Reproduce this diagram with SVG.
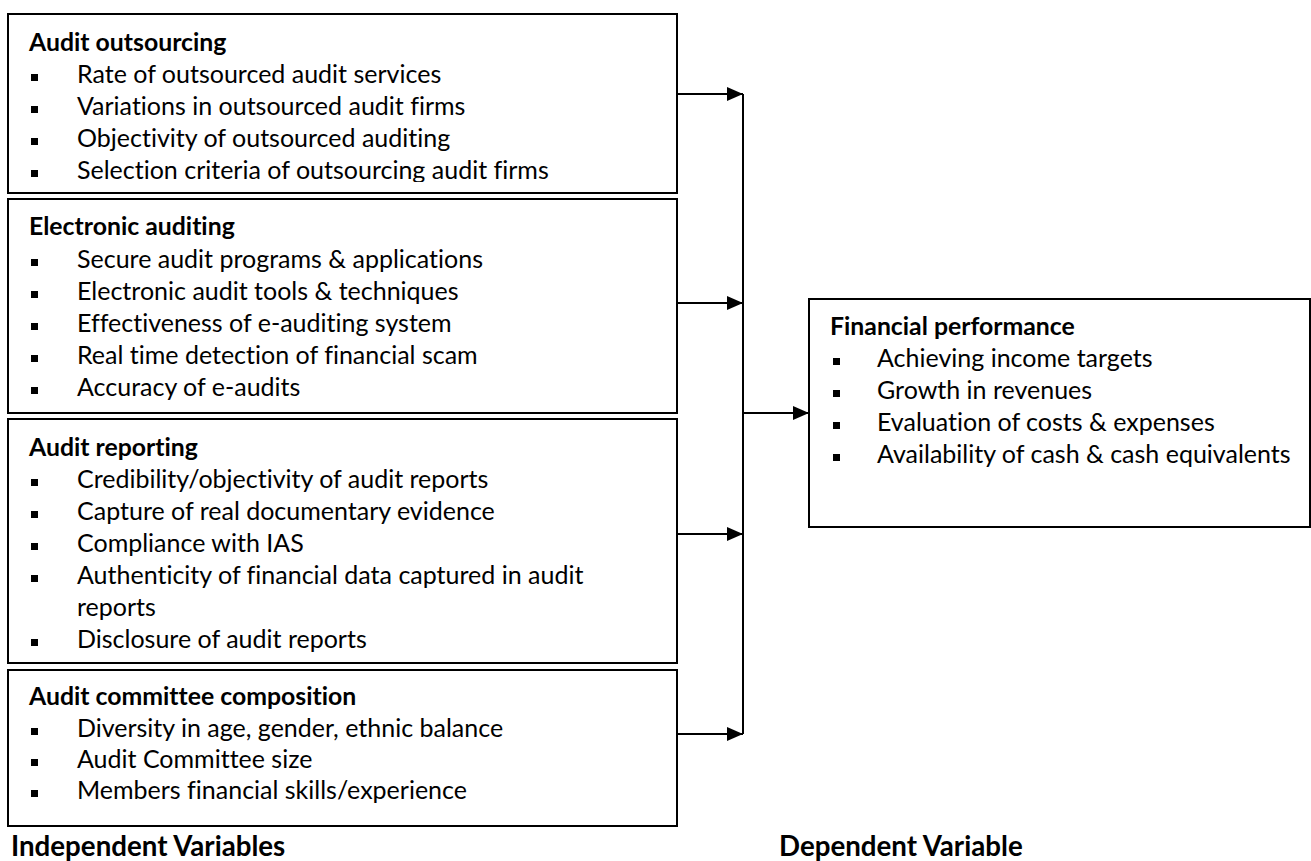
<svg xmlns="http://www.w3.org/2000/svg" width="1311" height="861" viewBox="0 0 1311 861">
<style>
text{font-variant-ligatures:none}
.box{fill:#fff;stroke:#000;stroke-width:2}
.t{font-family:Lato,"Liberation Sans",sans-serif;font-size:25px;fill:#000}
.h{font-family:Lato,"Liberation Sans",sans-serif;font-size:24.8px;font-weight:bold;fill:#000}
.lbl{font-family:Lato,"Liberation Sans",sans-serif;font-size:27.7px;font-weight:bold;fill:#000}
.b{fill:#000}
.conn{stroke:#000;stroke-width:2;fill:none}
</style>
<defs>
<marker id="arr" viewBox="0 0 16 14" refX="16" refY="7" markerWidth="16" markerHeight="14" markerUnits="userSpaceOnUse" orient="auto">
<path d="M0,0 L16,7 L0,14 Z" fill="#000"/>
</marker>
<clipPath id="c1"><rect x="0" y="0" width="700" height="182"/></clipPath>
<clipPath id="c3"><rect x="0" y="400" width="700" height="252"/></clipPath>
</defs>

<g id="n1">
<rect class="box" x="8" y="14" width="669" height="179"/>
<g clip-path="url(#c1)">
<text class="h" x="29" y="51">Audit outsourcing</text>
<rect class="b" x="31" y="74" width="7" height="7"/><text class="t" x="77" y="83">Rate of outsourced audit services</text>
<rect class="b" x="31" y="106" width="7" height="7"/><text class="t" x="77" y="115">Variations in outsourced audit firms</text>
<rect class="b" x="31" y="138" width="7" height="7"/><text class="t" x="77" y="147">Objectivity of outsourced auditing</text>
<rect class="b" x="31" y="170" width="7" height="7"/><text class="t" x="77" y="179">Selection criteria of outsourcing audit firms</text>
</g>
</g>

<g id="n2">
<rect class="box" x="8" y="199" width="669" height="214"/>
<text class="h" x="29" y="235">Electronic auditing</text>
<rect class="b" x="31" y="259" width="7" height="7"/><text class="t" x="77" y="268">Secure audit programs &amp; applications</text>
<rect class="b" x="31" y="291" width="7" height="7"/><text class="t" x="77" y="300">Electronic audit tools &amp; techniques</text>
<rect class="b" x="31" y="323" width="7" height="7"/><text class="t" x="77" y="332">Effectiveness of e-auditing system</text>
<rect class="b" x="31" y="355" width="7" height="7"/><text class="t" x="77" y="364">Real time detection of financial scam</text>
<rect class="b" x="31" y="387" width="7" height="7"/><text class="t" x="77" y="396">Accuracy of e-audits</text>
</g>

<g id="n3">
<rect class="box" x="8" y="419" width="669" height="244"/>
<g clip-path="url(#c3)">
<text class="h" x="29" y="456">Audit reporting</text>
<rect class="b" x="31" y="479" width="7" height="7"/><text class="t" x="77" y="488">Credibility/objectivity of audit reports</text>
<rect class="b" x="31" y="511" width="7" height="7"/><text class="t" x="77" y="520">Capture of real documentary evidence</text>
<rect class="b" x="31" y="543" width="7" height="7"/><text class="t" x="77" y="552">Compliance with IAS</text>
<rect class="b" x="31" y="575" width="7" height="7"/><text class="t" x="77" y="584">Authenticity of financial data captured in audit</text>
<text class="t" x="77" y="616">reports</text>
<rect class="b" x="31" y="639" width="7" height="7"/><text class="t" x="77" y="648">Disclosure of audit reports</text>
</g>
</g>

<g id="n4">
<rect class="box" x="8" y="670" width="669" height="156"/>
<text class="h" x="29" y="705">Audit committee composition</text>
<rect class="b" x="31" y="728" width="7" height="7"/><text class="t" x="77" y="737">Diversity in age, gender, ethnic balance</text>
<rect class="b" x="31" y="759" width="7" height="7"/><text class="t" x="77" y="768">Audit Committee size</text>
<rect class="b" x="31" y="790" width="7" height="7"/><text class="t" x="77" y="799">Members financial skills/experience</text>
</g>

<g id="n5">
<rect class="box" x="809" y="299" width="501" height="228"/>
<text class="h" x="830" y="335">Financial performance</text>
<rect class="b" x="833" y="358" width="7" height="7"/><text class="t" x="877" y="367">Achieving income targets</text>
<rect class="b" x="833" y="390" width="7" height="7"/><text class="t" x="877" y="399">Growth in revenues</text>
<rect class="b" x="833" y="422" width="7" height="7"/><text class="t" x="877" y="431">Evaluation of costs &amp; expenses</text>
<rect class="b" x="833" y="454" width="7" height="7"/><text class="t" x="877" y="463">Availability of cash &amp; cash equivalents</text>
</g>

<g id="connectors">
<line class="conn" x1="743" y1="94" x2="743" y2="734"/>
<line class="conn" x1="677" y1="94" x2="743" y2="94" marker-end="url(#arr)"/>
<line class="conn" x1="677" y1="303" x2="743" y2="303" marker-end="url(#arr)"/>
<line class="conn" x1="677" y1="534" x2="743" y2="534" marker-end="url(#arr)"/>
<line class="conn" x1="677" y1="734" x2="743" y2="734" marker-end="url(#arr)"/>
<line class="conn" x1="743" y1="413" x2="809" y2="413" marker-end="url(#arr)"/>
</g>

<g id="labels">
<text class="lbl" x="11" y="856">Independent Variables</text>
<text class="lbl" x="779" y="856">Dependent Variable</text>
</g>
</svg>
